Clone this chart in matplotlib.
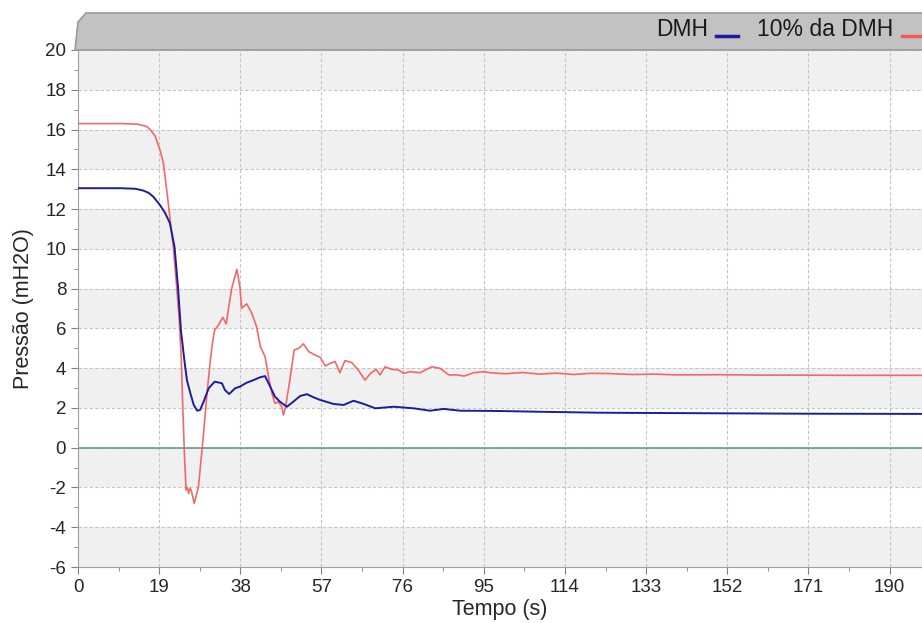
import matplotlib.pyplot as plt
from matplotlib.patches import Polygon
from matplotlib.lines import Line2D
from matplotlib.ticker import MultipleLocator

plt.rcParams['font.family'] = ['Liberation Sans', 'DejaVu Sans']
plt.rcParams['axes.unicode_minus'] = False

# DMH pressure (blue)
t_dmh = [0, 10, 13.5, 15.3, 16.5, 17.6, 19.2, 20.4, 21.5, 22.6, 23.4, 24.1, 24.9, 25.5,
         26.3, 27.1, 27.9, 28.6, 29.4, 30.6, 32.0, 33.7, 34.4, 35.4, 36.8, 37.9, 39.5,
         41.1, 42.6, 43.8, 45.0, 46.1, 47.3, 48.9, 50.4, 52.0, 53.6, 55.2, 56.7, 58.3,
         59.8, 62.2, 64.5, 66.9, 69.6, 73.9, 78.6, 82.4, 85.6, 89.5, 96.5, 100, 110,
         122, 130, 150, 170, 198]
p_dmh = [13.05, 13.05, 13.02, 12.93, 12.82, 12.63, 12.2, 11.8, 11.3, 10.1, 8.1, 5.9, 4.4, 3.4,
         2.74, 2.15, 1.86, 1.9, 2.31, 2.99, 3.32, 3.24, 2.9, 2.7, 2.99, 3.07, 3.27,
         3.4, 3.54, 3.6, 3.07, 2.57, 2.31, 2.06, 2.31, 2.6, 2.69, 2.53, 2.4, 2.3,
         2.2, 2.15, 2.36, 2.2, 1.98, 2.06, 1.98, 1.86, 1.95, 1.86, 1.85, 1.84, 1.8,
         1.76, 1.75, 1.73, 1.71, 1.70]

# 10% da DMH pressure (red)
t_10 = [0, 10, 14.0, 16.1, 17.1, 18.1, 19.2, 20.0, 20.8, 21.5, 22.3, 23.1, 23.7, 24.2,
        24.5, 24.9, 25.3, 25.6, 25.9, 26.2, 26.5, 26.9, 27.2, 27.7, 28.2, 28.8, 29.4,
        30.2, 31.0, 31.5, 32.0, 32.9, 33.9, 34.7, 35.3, 36.0, 37.2, 37.9, 38.3, 39.5,
        40.7, 41.8, 42.7, 43.8, 44.6, 45.4, 46.1, 46.9, 47.7, 48.1, 48.6, 49.6, 50.6,
        51.6, 52.8, 54.0, 55.5, 56.7, 57.9, 59.0, 60.2, 61.3, 62.5, 64.1, 65.6, 67.2,
        68.5, 69.8, 70.7, 71.9, 73.4, 75.0, 76.2, 77.8, 80.1, 82.8, 84.8, 86.8, 88.7,
        90.4, 92.6, 95.0, 96.5, 100, 104, 108, 112, 116, 120, 124, 130, 135, 140,
        150, 160, 170, 180, 190, 198]
p_10 = [16.3, 16.3, 16.27, 16.15, 15.95, 15.65, 14.97, 14.3, 12.9, 11.6, 10.1, 8.1, 6.42, 4.41,
        2.23, -0.27, -2.13, -2.0, -2.3, -2.05, -2.13, -2.5, -2.8, -2.4, -1.96, -0.62, 0.72,
        2.74, 4.41, 5.3, 5.92, 6.17, 6.56, 6.22, 7.09, 8.02, 8.97, 8.1, 7.01, 7.23,
        6.76, 6.09, 5.08, 4.58, 3.57, 2.74, 2.23, 2.31, 2.06, 1.64, 2.06, 3.4, 4.91,
        4.99, 5.22, 4.83, 4.66, 4.55, 4.11, 4.24, 4.33, 3.77, 4.38, 4.28, 3.91, 3.4,
        3.74, 3.94, 3.66, 4.07, 3.94, 3.91, 3.74, 3.82, 3.77, 4.07, 3.99, 3.66, 3.66,
        3.6, 3.77, 3.82, 3.77, 3.72, 3.78, 3.70, 3.75, 3.68, 3.74, 3.73, 3.68, 3.70, 3.66,
        3.67, 3.65, 3.65, 3.64, 3.64, 3.64]

x_ticks = [0, 19, 38, 57, 76, 95, 114, 133, 152, 171, 190]
series_labels = ['DMH', '10% da DMH']
blue = '#1c1c9c'
red = '#f05a5a'

W, H = 922, 623
fig = plt.figure(figsize=(W / 100, H / 100), dpi=100)
ax = fig.add_axes([78 / W, 1 - 567 / H, 1 - 78 / W, 517 / H])

ax.set_xlim(0, 197.6)
ax.set_ylim(-6, 20)

# alternating horizontal bands
for y0 in range(-6, 20, 4):
    ax.axhspan(y0, y0 + 2, color='#f0f0f0', zorder=0, lw=0)

ax.set_xticks(x_ticks)
ax.xaxis.set_minor_locator(MultipleLocator(9.5))
ax.yaxis.set_major_locator(MultipleLocator(2))
ax.yaxis.set_minor_locator(MultipleLocator(1))
ax.grid(True, which='major', color='#c4c4c4', ls=(0, (3, 2)), lw=0.8, zorder=1)
ax.axhline(0, color='#6a9896', lw=1.2, zorder=2)

ax.plot(t_dmh, p_dmh, color=blue, lw=1.4, zorder=4)
ax.plot(t_10, p_10, color=red, lw=1.2, alpha=0.9, zorder=3)

for s in ['top', 'right']:
    ax.spines[s].set_visible(False)
for s in ['left', 'bottom']:
    ax.spines[s].set_color('#a0a0a0')
ax.tick_params(which='both', colors='#808080', labelcolor='#262626', labelsize=13.5)
ax.tick_params(which='major', length=5)
ax.tick_params(which='minor', length=3)

ax.set_xlabel('Tempo (s)', fontsize=15.5, color='#262626')
ax.set_ylabel('Pressão (mH2O)', fontsize=15.5, color='#262626')
ax.xaxis.set_label_coords(0.5, (567 - 599) / 517)
ax.yaxis.set_label_coords((34 - 78) / 844, 0.5)

# legend header strip
pts = [(75, 50), (78, 22), (86, 13), (W + 5, 13), (W + 5, 50)]
hdr = Polygon([(x / W, 1 - y / H) for x, y in pts], closed=True, transform=fig.transFigure,
              facecolor='#c2c2c2', edgecolor='#9a9a9a', lw=1.2)
fig.add_artist(hdr)

fig.text(708 / W, 1 - 30 / H, series_labels[0], ha='right', va='center', fontsize=16.5, color='#1a1a1a')
fig.add_artist(Line2D([716 / W, 738 / W], [1 - 36 / H] * 2, color=blue, lw=2.5, transform=fig.transFigure))
fig.text(893 / W, 1 - 30 / H, series_labels[1], ha='right', va='center', fontsize=16.5, color='#1a1a1a')
fig.add_artist(Line2D([902 / W, 925 / W], [1 - 36 / H] * 2, color=red, lw=2.5, transform=fig.transFigure))

fig.savefig('out.png', dpi=100)
